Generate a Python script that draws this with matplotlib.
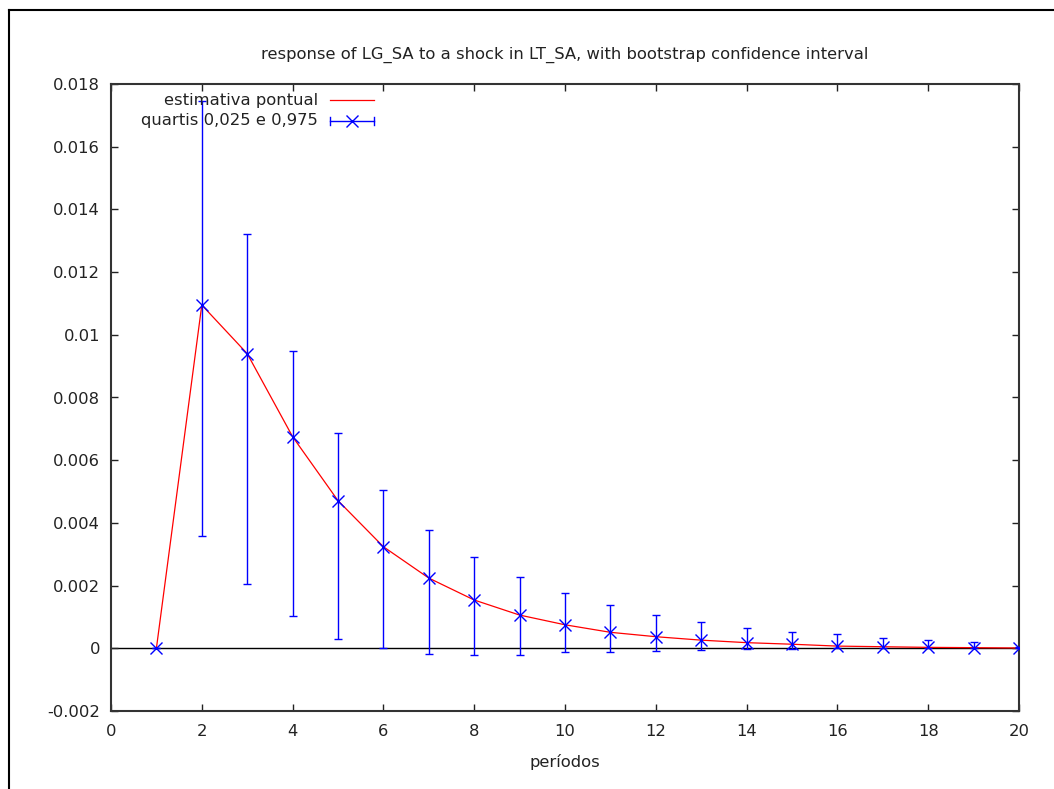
import matplotlib
matplotlib.use("Agg")
import matplotlib.pyplot as plt
from matplotlib.lines import Line2D
from matplotlib.ticker import FuncFormatter, MultipleLocator

periods = list(range(1, 21))
point_est = [0.0, 0.01095, 0.0094, 0.00675, 0.00471, 0.00324, 0.00224, 0.00154,
             0.00106, 0.00075, 0.00051, 0.00037, 0.00026, 0.00018, 0.00013,
             0.00007, 0.00005, 0.00003, 0.00002, 0.00001]
lower_q = [0.0, 0.00358, 0.00206, 0.00102, 0.00029, 0.0, -0.00019, -0.00022,
           -0.00022, -0.00012, -0.00012, -0.00009, -0.00004, -0.00001, -0.00003,
           0.0, 0.0, 0.0, 0.0, 0.0]
upper_q = [0.0, 0.01747, 0.0132, 0.00948, 0.00688, 0.00505, 0.00378, 0.0029,
           0.00229, 0.00175, 0.00137, 0.00105, 0.00083, 0.00066, 0.00053,
           0.00045, 0.00034, 0.00026, 0.00021, 0.00005]

title = "response of LG_SA to a shock in LT_SA, with bootstrap confidence interval"
xlabel = "períodos"
label_point = "estimativa pontual"
label_q = "quartis 0,025 e 0,975"

FS = 11.8
TXT = '#222222'
plt.rcParams['font.family'] = ['DejaVu Sans']
fig = plt.figure(figsize=(10.54, 7.89), dpi=100)
ax = fig.add_axes([111/1054, 1-711/789, (1019-111)/1054, (711-84)/789])

ax.axhline(0, color='black', lw=1.0, zorder=1)
ax.plot(periods, point_est, color='red', lw=0.9, zorder=2)
yerr_low = [p - l for p, l in zip(point_est, lower_q)]
yerr_up = [u - p for p, u in zip(point_est, upper_q)]
ax.errorbar(periods, point_est, yerr=[yerr_low, yerr_up], fmt='x', color='blue',
            ecolor='blue', elinewidth=1.0, capsize=3, capthick=1.0,
            markersize=8, mew=1.0, zorder=3)

ax.set_xlim(0, 20)
ax.set_ylim(-0.002, 0.018)
ax.xaxis.set_major_locator(MultipleLocator(2))
ax.yaxis.set_major_locator(MultipleLocator(0.002))
ax.yaxis.set_major_formatter(FuncFormatter(lambda v, p: "%g" % round(v, 6)))
ax.tick_params(direction='in', length=5, width=1, top=True, right=True,
               labelsize=FS, colors=TXT)
ax.tick_params(axis='x', pad=9)
ax.tick_params(axis='y', pad=8)
for s in ax.spines.values():
    s.set_linewidth(1.5)
    s.set_color('#333333')

ax.set_title(title, fontsize=FS, pad=18, color=TXT)
ax.set_xlabel(xlabel, fontsize=FS, labelpad=11, color=TXT)

# gnuplot-style legend (text right-aligned, sample on the right)
tr = ax.transAxes
x_text = (318-111)/908
x0, x1 = (330-111)/908, (374-111)/908
y1 = (711-100)/627
y2 = (711-121)/627
ax.text(x_text, y1, label_point, transform=tr, ha='right', va='center', fontsize=FS, color=TXT)
ax.plot([x0, x1], [y1, y1], color='red', lw=0.9, transform=tr, clip_on=False)
ax.text(x_text, y2, label_q, transform=tr, ha='right', va='center', fontsize=FS, color=TXT)
ax.plot([x0, x1], [y2, y2], color='blue', lw=1.0, transform=tr, clip_on=False)
cap = 4/627
ax.plot([x0, x0], [y2-cap, y2+cap], color='blue', lw=1.0, transform=tr, clip_on=False)
ax.plot([x1, x1], [y2-cap, y2+cap], color='blue', lw=1.0, transform=tr, clip_on=False)
ax.plot([(x0+x1)/2], [y2], marker='x', color='blue', markersize=8, mew=1.0, transform=tr, clip_on=False)

# outer frame
fig.add_artist(Line2D([9/1054, 9/1054], [0, 1-10/789], color='black', lw=1.5, transform=fig.transFigure))
fig.add_artist(Line2D([9/1054, 1], [1-10/789, 1-10/789], color='black', lw=1.5, transform=fig.transFigure))

fig.savefig("out.png", dpi=100)
